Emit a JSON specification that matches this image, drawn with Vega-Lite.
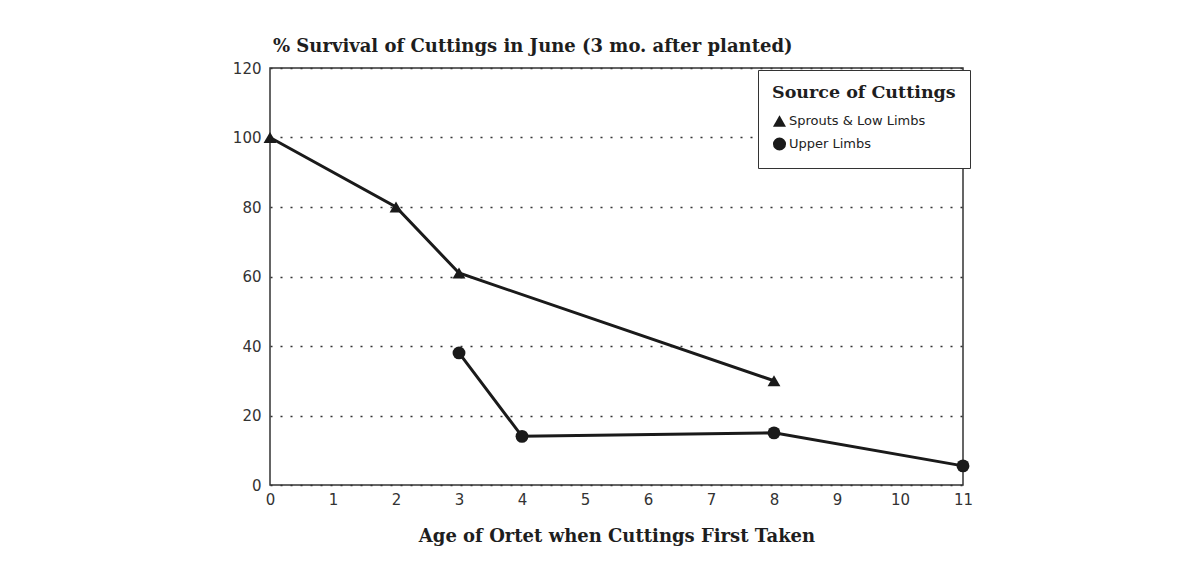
{
  "$schema": "https://vega.github.io/schema/vega-lite/v6.json",
  "autosize": "none",
  "width": 693,
  "height": 417,
  "padding": {"left": 270, "top": 68, "right": 224, "bottom": 90},
  "background": "white",
  "title": {
    "text": "% Survival of Cuttings in June (3 mo. after planted)",
    "anchor": "start",
    "frame": "group",
    "font": "DejaVu Serif",
    "fontSize": 18,
    "fontWeight": "bold",
    "color": "#1e1e1e",
    "offset": 5,
    "dx": 3
  },
  "data": {
    "values": [
      {"age": 0, "survival": 100, "source": "Sprouts & Low Limbs"},
      {"age": 2, "survival": 80, "source": "Sprouts & Low Limbs"},
      {"age": 3, "survival": 61, "source": "Sprouts & Low Limbs"},
      {"age": 8, "survival": 30, "source": "Sprouts & Low Limbs"},
      {"age": 3, "survival": 38, "source": "Upper Limbs"},
      {"age": 4, "survival": 14, "source": "Upper Limbs"},
      {"age": 8, "survival": 15, "source": "Upper Limbs"},
      {"age": 11, "survival": 5.5, "source": "Upper Limbs"}
    ]
  },
  "encoding": {
    "x": {
      "field": "age",
      "type": "quantitative",
      "scale": {"domain": [0, 11], "nice": false, "zero": false},
      "axis": {
        "title": "Age of Ortet when Cuttings First Taken",
        "titleFont": "DejaVu Serif",
        "titleFontSize": 18,
        "titleFontWeight": "bold",
        "titleColor": "#1e1e1e",
        "titlePadding": 20,
        "values": [0, 1, 2, 3, 4, 5, 6, 7, 8, 9, 10, 11],
        "format": "d",
        "labelFont": "DejaVu Sans",
        "labelFontSize": 15,
        "labelColor": "#333",
        "labelPadding": 7,
        "labelFlush": false,
        "ticks": false,
        "grid": false,
        "domain": false
      }
    },
    "y": {
      "field": "survival",
      "type": "quantitative",
      "scale": {"domain": [0, 120], "nice": false},
      "axis": {
        "title": null,
        "values": [0, 20, 40, 60, 80, 100, 120],
        "labelFont": "DejaVu Sans",
        "labelFontSize": 15,
        "labelColor": "#333",
        "labelPadding": 9,
        "ticks": false,
        "domain": false,
        "grid": true,
        "gridColor": "#333",
        "gridDash": [2, 8],
        "gridWidth": 1.3
      }
    }
  },
  "layer": [
    {
      "mark": {"type": "line", "color": "#1a1a1a", "strokeWidth": 3},
      "encoding": {"detail": {"field": "source"}}
    },
    {
      "mark": {"type": "point", "filled": true, "opacity": 1, "color": "#1a1a1a"},
      "encoding": {
        "shape": {
          "field": "source",
          "type": "nominal",
          "scale": {"domain": ["Sprouts & Low Limbs", "Upper Limbs"], "range": ["triangle-up", "circle"]},
          "legend": {
            "title": "Source of Cuttings",
            "orient": "none",
            "legendX": 488,
            "legendY": 2,
            "padding": 14,
            "strokeColor": "#333",
            "fillColor": "white",
            "titleFont": "DejaVu Serif",
            "titleFontSize": 17.5,
            "titleFontWeight": "bold",
            "titleColor": "#1e1e1e",
            "titleLimit": 400,
            "titlePadding": 12,
            "labelFont": "DejaVu Sans",
            "labelFontSize": 13,
            "labelColor": "#222",
            "labelLimit": 300,
            "symbolSize": 170,
            "symbolFillColor": "#1a1a1a",
            "symbolStrokeColor": "#1a1a1a",
            "symbolOffset": 0,
            "rowPadding": 3,
            "labelOffset": 2
          }
        },
        "size": {"value": 165}
      }
    }
  ],
  "config": {
    "view": {"stroke": "#333", "strokeWidth": 1.5}
  }
}
